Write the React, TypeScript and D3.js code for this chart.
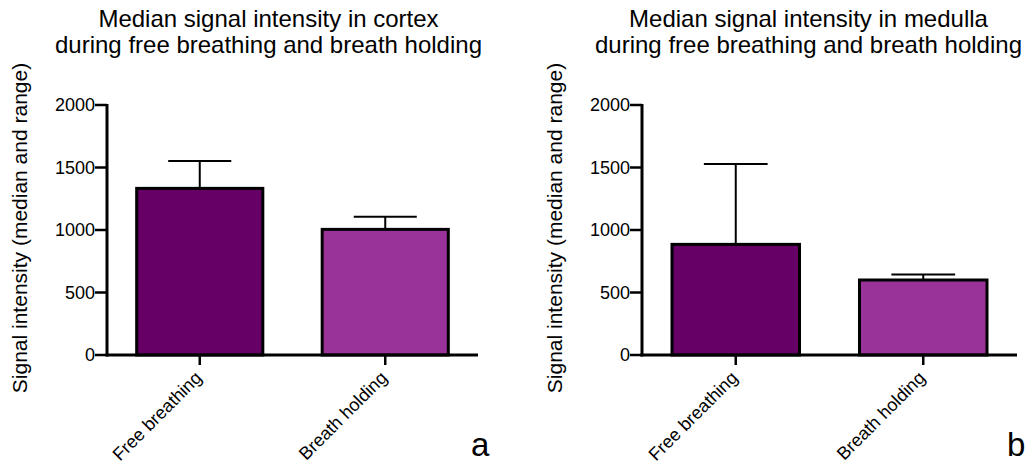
import React from "react";
import * as d3 from "d3";

const categories = ["Free breathing", "Breath holding"];
const cortexMedian = [1333, 1005];
const cortexMax = [1552, 1106];
const medullaMedian = [885, 600];
const medullaMax = [1528, 645];
const yTicks = [0, 500, 1000, 1500, 2000];
const colors = ["#660066", "#993399"];

const FONT = "'Liberation Sans', Arial, Helvetica, sans-serif";

function Panel({ x0, x1, titleX, title, median, max, letter, letterX }: any) {
  const yTop = 105, yBottom = 355;
  const y = d3.scaleLinear().domain([0, 2000]).range([yBottom, yTop]);
  const x = d3.scaleBand().domain(categories).range([x0, x1]).paddingInner(0.32).paddingOuter(0.16);
  const bw = x.bandwidth();
  return (
    <g style={{ fontFamily: FONT }}>
      <text x={titleX} y={26.5} textAnchor="middle" fontSize={24}>{title[0]}</text>
      <text x={titleX} y={52.5} textAnchor="middle" fontSize={24}>{title[1]}</text>
      <text transform={`translate(${x0 - 80},${228}) rotate(-90)`} textAnchor="middle" fontSize={21}>
        Signal intensity (median and range)
      </text>
      {categories.map((c, i) => {
        const bx = x(c)!;
        const mid = bx + bw / 2;
        return (
          <g key={c}>
            <line x1={mid} x2={mid} y1={y(median[i])} y2={y(max[i])} stroke="#000" strokeWidth={2} />
            <line x1={mid - bw / 4} x2={mid + bw / 4} y1={y(max[i])} y2={y(max[i])} stroke="#000" strokeWidth={2} />
            <rect x={bx} y={y(median[i])} width={bw} height={yBottom - y(median[i])} fill={colors[i]} stroke="#000" strokeWidth={3} />
          </g>
        );
      })}
      <line x1={x0} x2={x0} y1={yTop - 1} y2={yBottom + 1.5} stroke="#000" strokeWidth={3} />
      <line x1={x0 - 1.5} x2={x1} y1={yBottom} y2={yBottom} stroke="#000" strokeWidth={3} />
      {yTicks.map((t) => (
        <g key={t}>
          <line x1={x0 - 12} x2={x0} y1={y(t)} y2={y(t)} stroke="#000" strokeWidth={2.5} />
          <text x={x0 - 12} y={y(t)} dy="0.35em" textAnchor="end" fontSize={18}>{t}</text>
        </g>
      ))}
      {categories.map((c) => {
        const mid = x(c)! + bw / 2;
        return (
          <g key={c + "t"}>
            <line x1={mid} x2={mid} y1={yBottom} y2={yBottom + 10} stroke="#000" strokeWidth={2.5} />
            <text transform={`translate(${mid + 3},${yBottom + 24}) rotate(-45)`} textAnchor="end" fontSize={18}>{c}</text>
          </g>
        );
      })}
      <text x={letterX} y={456} fontSize={33}>{letter}</text>
    </g>
  );
}

export default function App() {
  return (
    <svg width={1029} height={468} style={{ position: "absolute", left: 0, top: 0, background: "#fff" }}>
      <rect width={1029} height={468} fill="#fff" />
      <Panel x0={107} x1={478} titleX={268.5} letterX={471} title={["Median signal intensity in cortex", "during free breathing and breath holding"]} median={cortexMedian} max={cortexMax} letter="a" />
      <Panel x0={642} x1={1017} titleX={808.5} letterX={1007} title={["Median signal intensity in medulla", "during free breathing and breath holding"]} median={medullaMedian} max={medullaMax} letter="b" />
    </svg>
  );
}
